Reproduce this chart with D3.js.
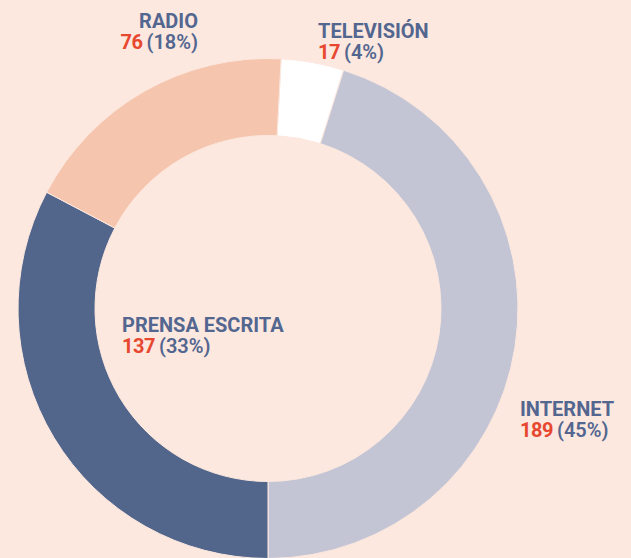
<!DOCTYPE html>
<html lang="es">
<head>
    <meta charset="UTF-8">
    <script src="https://d3js.org/d3.v7.min.js"></script>
    <title>Medios - donut</title>
    <style>
        html, body { margin: 0; padding: 0; background: #fce8df; }
        svg { display: block; }
    </style>
</head>
<body>
    <div id="chart"></div>
    <script>
        // data (order = clockwise from the top)
        const categories = ["TELEVISIÓN", "INTERNET", "PRENSA ESCRITA", "RADIO"];
        const values = [17, 189, 137, 76];
        const percents = ["4%", "45%", "33%", "18%"];
        const colors = ["#ffffff", "#c4c5d4", "#52668c", "#f5c5ae"];

        // label placement, relative to the donut centre
        const labelPos = {
            "TELEVISIÓN": {dx: 50, dy: -271, anchor: "start"},
            "INTERNET": {dx: 252, dy: 107, anchor: "start"},
            "PRENSA ESCRITA": {dx: -146, dy: 23, anchor: "start"},
            "RADIO": {dx: -70, dy: -281, anchor: "end"}
        };

        const W = 631, H = 558;
        const cx = 268, cy = 308.5;
        const outerR = 250, innerR = 173;
        const lineGap = 21.5;
        const font = "Roboto, 'Noto Sans', sans-serif";

        const svg = d3.select("#chart")
            .append("svg")
            .attr("width", W)
            .attr("height", H);

        svg.append("rect")
            .attr("width", W)
            .attr("height", H)
            .attr("fill", "#fce8df");

        const total = d3.sum(values);
        // Internet ends straight down, so shift the start a little
        const start = Math.PI - (values[0] + values[1]) / total * 2 * Math.PI;

        const pie = d3.pie()
            .sort(null)
            .value(d => d.value)
            .startAngle(start)
            .endAngle(start + 2 * Math.PI);

        const arc = d3.arc()
            .innerRadius(innerR)
            .outerRadius(outerR);

        const data = categories.map((c, i) => ({name: c, value: values[i], pct: percents[i], color: colors[i]}));

        const g = svg.append("g")
            .attr("transform", `translate(${cx},${cy})`);

        g.selectAll("path")
            .data(pie(data))
            .join("path")
            .attr("d", arc)
            .attr("fill", d => d.data.color)
            .attr("stroke", "#fce8df")
            .attr("stroke-width", 1);

        // labels: name on one line, "value (pct)" below
        data.forEach(d => {
            const p = labelPos[d.name];
            const lg = g.append("g");

            lg.append("text")
                .attr("x", p.dx)
                .attr("y", p.dy)
                .attr("text-anchor", p.anchor)
                .attr("font-family", font)
                .attr("font-size", 20)
                .attr("font-weight", 700)
                .attr("fill", "#536690")
                .text(d.name);

            const num = lg.append("text")
                .attr("y", p.dy + lineGap)
                .attr("font-family", font)
                .attr("font-size", 20)
                .attr("font-weight", 700)
                .attr("letter-spacing", -0.5)
                .attr("fill", "#e8472f")
                .text(d.value);
            const pct = lg.append("text")
                .attr("y", p.dy + lineGap)
                .attr("font-family", font)
                .attr("font-size", 20)
                .attr("font-weight", 600)
                .attr("fill", "#536690")
                .text("(" + d.pct + ")");

            const nw = num.node().getComputedTextLength();
            const pw = pct.node().getComputedTextLength();
            const gap = 4;
            const x0 = p.anchor === "end" ? p.dx - pw - gap - nw : p.dx;
            num.attr("x", x0);
            pct.attr("x", x0 + nw + gap);
        });
    </script>
</body>
</html>
